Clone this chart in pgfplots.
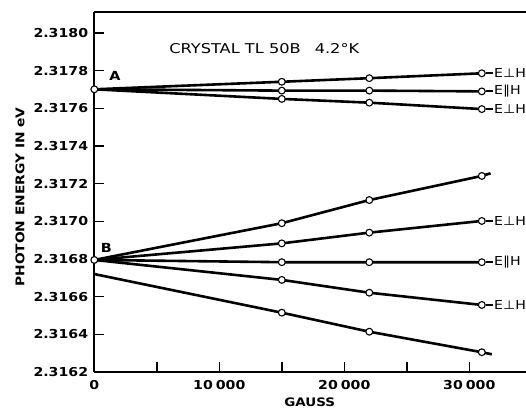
\documentclass[border=0pt]{standalone}
\usepackage{pgfplots}
\pgfplotsset{compat=1.18}
\usepackage{fontspec}
\setmainfont{DejaVu Sans}[FakeStretch=1.15]
\newfontfamily\titlefont{DejaVu Sans}[FakeStretch=1.2]
% y values: photon energy above 2.3160 eV, in micro-eV (1701 = 2.317701 eV)
\pgfplotsset{
  ln/.style={black, line width=2.6pt, mark=*, mark size=3.4pt,
    mark options={fill=white, draw=black, line width=1.1pt, solid},
    mark indices={2,3,4}},
}
\newcommand{\lab}[2]{\draw[line width=1.8pt] (axis cs:31000,#1) ++(3.8pt,0pt) -- ++(7pt,0pt)
  node[anchor=west, inner sep=0.6pt, font=\fontsize{12.3}{15}\selectfont]{#2};}
\begin{document}
\begin{tikzpicture}
\begin{axis}[
  scale only axis, width=437.5pt, height=360.3pt,
  xmin=0, xmax=35000, ymin=200, ymax=2113,
  axis x line=box, axis y line=left,
  axis line style={-, line width=1.8pt},
  xtick pos=bottom,
  tick align=inside, major tick length=10pt,
  tick style={line width=1.6pt, black},
  xtick={0,5000,10000,15000,20000,25000,30000},
  xticklabels={0,,10\hspace{3pt}000,,20\hspace{3pt}000,,30\hspace{3pt}000},
  ytick={200,400,600,800,1000,1200,1400,1600,1800,2000},
  yticklabels={2.3162,2.3164,2.3166,2.3168,2.3170,2.3172,2.3174,2.3176,2.3178,2.3180},
  scaled x ticks=false, scaled y ticks=false,
  tick label style={font=\bfseries\fontsize{12.3}{14}\selectfont},
  yticklabel style={inner sep=0pt, xshift=-6pt},
  xticklabel style={inner sep=0pt, yshift=-8pt},
  clip=false,
  xlabel={GAUSS}, ylabel={PHOTON ENERGY IN eV},
  every axis x label/.style={at={(axis description cs:0.4923,-0.0833)}, anchor=center,
    font=\bfseries\fontsize{11.7}{13}\selectfont},
  every axis y label/.style={at={(axis description cs:-0.1698,0.4857)}, anchor=center,
    rotate=90, font=\bfseries\fontsize{12}{14}\selectfont},
]
% group A
\addplot[ln] coordinates {(0,1701) (15000,1741) (22000,1760) (31000,1786)};
\addplot[ln] coordinates {(0,1701) (15000,1694) (22000,1694) (31000,1690)};
\addplot[ln] coordinates {(0,1701) (15000,1650) (22000,1630) (31000,1596)};
% group B
\addplot[ln] coordinates {(0,795) (15000,990) (22000,1113) (31000,1241) (31700,1255)};
\addplot[ln] coordinates {(0,795) (15000,883) (22000,940) (31000,1002)};
\addplot[ln] coordinates {(0,795) (15000,783) (22000,783) (31000,783)};
\addplot[ln] coordinates {(0,795) (15000,689) (22000,621) (31000,556)};
\addplot[ln] coordinates {(0,720) (15000,515) (22000,414) (31000,305) (31800,294)};
% origin points
\addplot[only marks, mark=*, mark size=3.4pt, mark options={fill=white, draw=black, line width=1.1pt}]
  coordinates {(0,1701) (0,795)};
\lab{1786}{E⊥H}
\lab{1690}{E∥H}
\lab{1596}{E⊥H}
\lab{1002}{E⊥H}
\lab{783}{E∥H}
\lab{556}{E⊥H}
\node[font=\titlefont\fontsize{13.5}{15}\selectfont] at (rel axis cs:0.3886,0.8984)
  {CRYSTAL TL 50B\hspace{14pt}4.2°K};
\node[font=\bfseries\fontsize{12.5}{14}\selectfont] at (rel axis cs:0.0473,0.8221) {A};
\node[font=\bfseries\fontsize{12.5}{14}\selectfont] at (rel axis cs:0.0274,0.3442) {B};
\end{axis}
\pgfresetboundingbox
\path[use as bounding box] (-94.3pt,-36pt) rectangle (431.7pt,372pt);
\end{tikzpicture}
\end{document}
